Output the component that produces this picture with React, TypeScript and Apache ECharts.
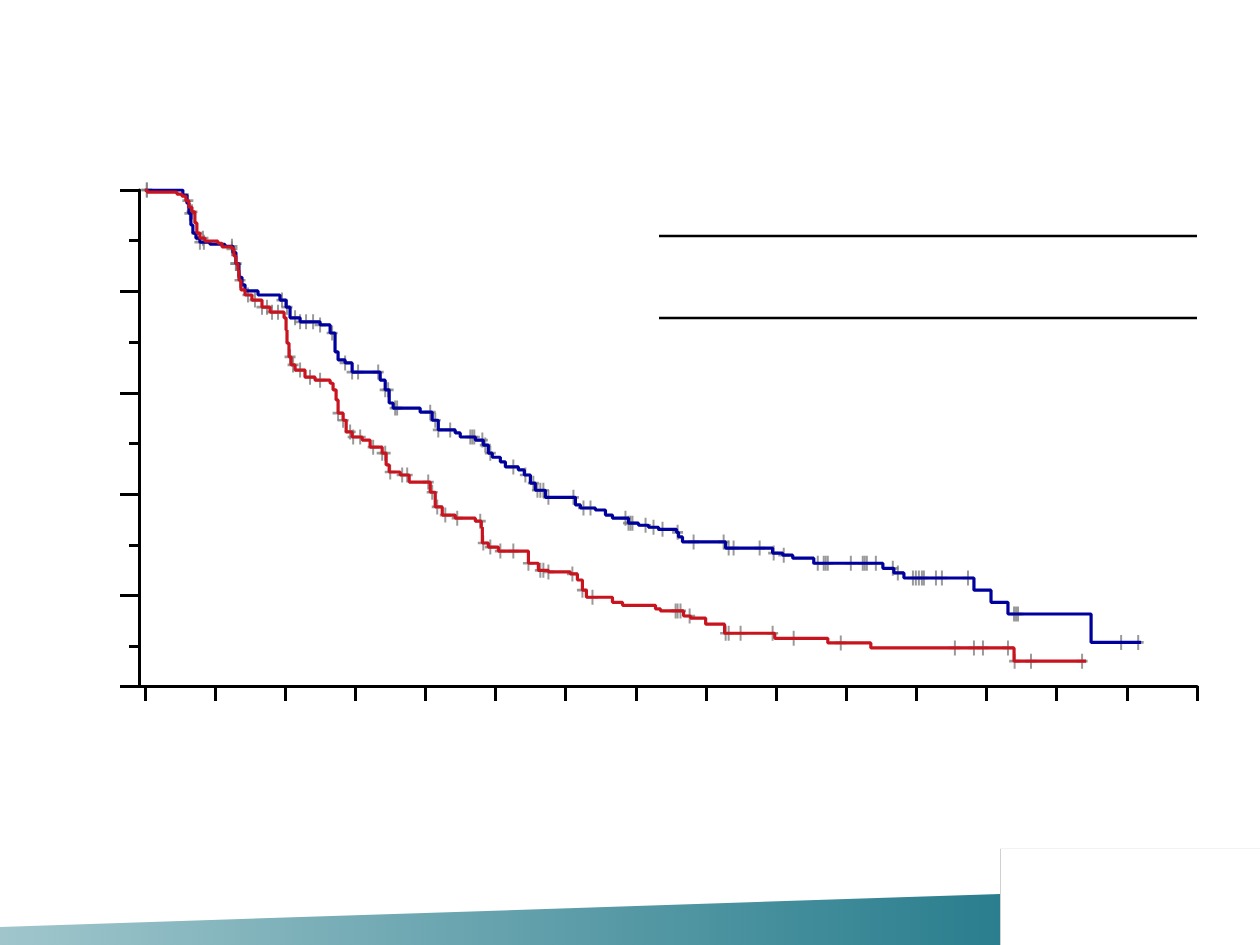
import React, { useEffect, useRef } from "react";
import * as echarts from "echarts";

// Kaplan–Meier step points: [month, survival %] (value holds from that month onward)
const blueCurve: [number, number][] = [
  [0, 100], [3.25, 99.0], [3.6, 97.4], [3.77, 95.4], [3.94, 93.1], [4.11, 91.5], [4.37, 90.5],
  [4.71, 89.7], [5.57, 89.3], [6.85, 88.9], [7.54, 87.7], [7.79, 85.5], [8.05, 82.8], [8.31, 81.3],
  [8.57, 80.1], [9.68, 79.3], [11.56, 78.3], [12.08, 76.9], [12.42, 74.8], [13.28, 74.0],
  [14.99, 73.4], [15.85, 71.8], [16.27, 68.1], [16.53, 66.5], [17.13, 65.9], [17.73, 64.1],
  [20.13, 62.5], [20.56, 60.6], [20.9, 58.0], [21.24, 57.0], [23.55, 56.2], [24.58, 54.6],
  [25.1, 52.7], [26.55, 52.1], [26.98, 51.3], [28.27, 50.7], [28.95, 49.7], [29.38, 48.1],
  [29.72, 47.3], [30.41, 46.4], [30.84, 45.4], [31.95, 44.8], [32.46, 43.8], [32.98, 42.2],
  [33.4, 40.8], [34.26, 39.4], [36.83, 37.9], [37.26, 37.3], [38.54, 36.9], [39.4, 35.9],
  [40.0, 35.3], [41.37, 34.3], [42.23, 33.9], [43.08, 33.5], [43.94, 33.1], [45.48, 32.5],
  [45.65, 31.6], [45.99, 30.6], [49.68, 29.4], [53.7, 28.4], [54.56, 28.0], [55.42, 27.4],
  [57.22, 26.4], [63.13, 25.4], [64.07, 24.5], [64.93, 23.5], [70.92, 21.1], [72.38, 18.7],
  [73.83, 16.4], [80.94, 10.8], [85.22, 10.8],
];

const redCurve: [number, number][] = [
  [0, 100], [0.2, 99.6], [2.74, 99.2], [3.17, 98.8], [3.51, 97.9], [3.77, 96.6], [4.03, 95.7],
  [4.28, 93.5], [4.45, 91.5], [4.71, 90.5], [5.14, 89.9], [6.25, 89.5], [6.6, 88.8], [7.45, 88.4],
  [7.62, 87.0], [7.79, 85.5], [7.97, 84.2], [8.05, 82.2], [8.22, 80.3], [8.57, 79.3], [9.16, 78.3],
  [10.02, 76.9], [10.71, 75.9], [11.91, 74.8], [12.08, 72.4], [12.16, 69.8], [12.33, 67.1],
  [12.51, 65.5], [12.85, 64.5], [13.7, 63.1], [14.56, 62.5], [15.85, 61.9], [16.1, 60.6],
  [16.36, 58.6], [16.53, 56.0], [16.96, 54.6], [17.22, 52.3], [17.73, 51.3], [18.59, 50.7],
  [19.27, 49.3], [20.3, 48.1], [20.64, 45.8], [20.9, 44.4], [21.84, 43.8], [22.61, 42.4],
  [24.41, 40.4], [24.84, 37.5], [25.44, 35.9], [26.55, 35.3], [28.27, 34.7], [28.78, 33.5],
  [28.87, 30.4], [29.38, 29.6], [30.24, 28.8], [32.81, 26.4], [33.66, 25.0], [34.52, 24.7],
  [36.4, 24.3], [37.0, 23.1], [37.43, 21.1], [37.77, 19.7], [40.0, 18.7], [40.86, 18.1],
  [43.68, 17.4], [44.11, 17.0], [46.08, 16.0], [46.68, 15.6], [47.97, 14.4], [49.59, 12.6],
  [53.88, 11.6], [58.42, 10.7], [62.1, 9.7], [74.35, 7.1], [80.51, 7.1],
];

// Censoring times (months)
const blueCensored: number[] = [
  0.17, 3.85, 4.71, 5.05, 7.45, 7.79, 11.73, 12.16, 12.85, 13.28, 13.79, 14.39, 14.99, 16.02,
  17.13, 17.73, 18.24, 19.96, 20.56, 20.81, 21.41, 21.58, 24.41, 24.84, 25.1, 26.12, 27.84, 28.01,
  28.18, 28.87, 29.12, 29.55, 31.52, 32.55, 33.23, 33.58, 33.83, 34.09, 34.52, 36.66, 37.52, 38.12,
  41.11, 41.37, 41.54, 41.71, 42.83, 43.51, 44.28, 45.57, 46.94, 49.51, 49.94, 50.36, 52.59, 53.79,
  54.65, 57.56, 58.07, 58.24, 58.42, 60.39, 61.41, 61.58, 61.76, 62.53, 63.98, 64.41, 65.7, 65.95,
  66.21, 66.47, 66.64, 67.67, 68.18, 70.41, 74.35, 74.52, 74.69, 83.51, 84.97,
];

const redCensored: number[] = [
  0.17, 3.68, 4.03, 4.45, 4.97, 7.45, 7.79, 8.14, 8.82, 9.42, 10.02, 10.45, 10.88, 11.39, 12.42,
  12.68, 13.28, 14.13, 14.99, 16.53, 16.96, 17.56, 17.82, 18.42, 19.53, 20.3, 20.56, 20.99, 22.01,
  22.44, 24.24, 24.58, 25.01, 25.7, 26.72, 28.69, 28.95, 29.55, 30.41, 31.52, 32.81, 33.83, 34.09,
  34.52, 36.57, 37.43, 38.29, 45.4, 45.57, 45.82, 46.6, 49.68, 49.94, 50.96, 53.7, 55.5, 59.53,
  69.29, 70.92, 71.69, 73.83, 74.4, 75.8, 80.17,
];

const xTicks: number[] = [0, 6, 12, 18, 24, 30, 36, 42, 48, 54, 60, 66, 72, 78, 84, 90];
const yMin = 2.2;
const yMajorTicks: number[] = [yMin, 20, 40, 60, 80, 100];
const yMinorTicks: number[] = [10, 30, 50, 70, 90];

function survivalAt(curve: [number, number][], t: number): number {
  let v = curve[0][1];
  for (const [x, y] of curve) {
    if (x <= t) v = y;
    else break;
  }
  return v;
}

const PLUS = "path://M4.1,0H5.9V4.1H10V5.9H5.9V10H4.1V5.9H0V4.1H4.1Z";

export default function App() {
  const ref = useRef<HTMLDivElement>(null);

  useEffect(() => {
    if (!ref.current) return;
    const chart = echarts.init(ref.current, undefined, { renderer: "svg" });

    const axisLineStyle = { color: "#000", width: 3 };

    chart.setOption({
      animation: false,
      backgroundColor: "#ffffff",
      grid: { left: 139, right: 63, top: 190, bottom: 259, containLabel: false },
      xAxis: {
        type: "value",
        min: -0.5,
        max: 90,
        splitLine: { show: false },
        axisLine: { show: true, onZero: false, lineStyle: axisLineStyle },
        axisTick: {
          show: true,
          inside: false,
          length: 15,
          lineStyle: axisLineStyle,
          customValues: xTicks,
        },
        axisLabel: { show: false },
      },
      yAxis: [
        {
          type: "value",
          min: yMin,
          max: 100,
          splitLine: { show: false },
          axisLine: { show: true, onZero: false, lineStyle: axisLineStyle },
          axisTick: {
            show: true,
            length: 19,
            lineStyle: axisLineStyle,
            customValues: yMajorTicks,
          },
          axisLabel: { show: false },
        },
        {
          type: "value",
          position: "left",
          min: yMin,
          max: 100,
          splitLine: { show: false },
          axisLine: { show: false, onZero: false },
          axisTick: {
            show: true,
            length: 10,
            lineStyle: axisLineStyle,
            customValues: yMinorTicks,
          },
          axisLabel: { show: false },
        },
      ],
      series: [
        {
          type: "scatter",
          name: "blue censored",
          symbol: PLUS,
          symbolSize: [11, 15],
          itemStyle: { color: "#808080" },
          z: 1,
          data: blueCensored.map((t) => [t, survivalAt(blueCurve, t)]),
        },
        {
          type: "scatter",
          name: "red censored",
          symbol: PLUS,
          symbolSize: [11, 15],
          itemStyle: { color: "#808080" },
          z: 1,
          data: redCensored.map((t) => [t, survivalAt(redCurve, t)]),
        },
        {
          type: "line",
          name: "blue",
          step: "end",
          showSymbol: false,
          symbol: "none",
          lineStyle: { color: "#00009c", width: 3.2 },
          z: 3,
          data: blueCurve,
        },
        {
          type: "line",
          name: "red",
          step: "end",
          showSymbol: false,
          symbol: "none",
          lineStyle: { color: "#c8141e", width: 3.2 },
          z: 4,
          data: redCurve,
        },
      ],
      graphic: [
        {
          type: "line",
          shape: { x1: 659, y1: 236, x2: 1197, y2: 236 },
          style: { stroke: "#000", lineWidth: 2.5 },
        },
        {
          type: "line",
          shape: { x1: 659, y1: 318, x2: 1197, y2: 318 },
          style: { stroke: "#000", lineWidth: 2.5 },
        },
        {
          type: "polygon",
          shape: { points: [[0, 927], [1000, 894], [1000, 945], [0, 945]] },
          style: {
            fill: new echarts.graphic.LinearGradient(0, 0, 1, 0, [
              { offset: 0, color: "#a0c6cc" },
              { offset: 1, color: "#2a7e8e" },
            ]),
          },
        },
        {
          type: "rect",
          shape: { x: 1000, y: 848, width: 260, height: 97 },
          style: { fill: "#ffffff" },
        },
        {
          type: "line",
          shape: { x1: 1000.5, y1: 848, x2: 1000.5, y2: 945 },
          style: { stroke: "#d0d0d0", lineWidth: 1 },
        },
        {
          type: "line",
          shape: { x1: 1000, y1: 848.5, x2: 1260, y2: 848.5 },
          style: { stroke: "#f2f2f2", lineWidth: 1 },
        },
      ],
    });

    return () => chart.dispose();
  }, []);

  return (
    <div
      ref={ref}
      style={{ position: "absolute", left: 0, top: 0, width: 1260, height: 945 }}
    />
  );
}
